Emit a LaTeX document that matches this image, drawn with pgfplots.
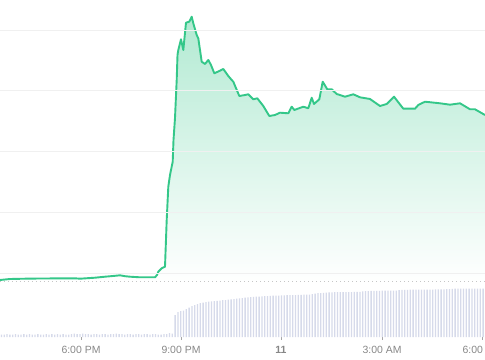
\documentclass[border=0pt]{standalone}
\usepackage{pgfplots}
\pgfplotsset{compat=1.18}
\usepackage{pgfplotstable}
\usepackage{fontspec}
\setmainfont{Liberation Sans}
\definecolor{lineC}{RGB}{52,199,137}
\definecolor{barC}{RGB}{214,218,234}
\definecolor{gridC}{RGB}{240,240,240}
\definecolor{labC}{RGB}{135,135,135}

\pgfplotstableread{
x y
0 2
10 3
25 3.3
40 3.5
60 3.6
75 3.7
80 3.3
95 4.3
105 5.3
113 6
120 6.7
125 5.8
130 5.3
140 4.7
155 4.7
157 7
158.3 10.3
161.7 13.7
165 15.3
166.7 62
168.3 95.3
170 107
172.7 120.3
173.5 142
175 164
176.7 202
177.5 227
178.3 232
181 242.7
183.3 232
186 259.3
189.3 260.3
191.7 265.3
193.3 258.7
196.7 247
198.3 243.7
201.7 220.3
205 218
208.3 222
211 217
214.3 208.7
220 211.3
223.3 213
228.3 206
231.7 202
233.3 200.3
239.3 186
245 187
248.3 187.7
253.3 182.7
257.3 183.7
263.3 176
269.3 166
275 167
280 169.3
288.3 168.7
291.7 175.3
294.3 172
303.3 175.3
308.3 173.7
311.7 184.3
314 178
319.3 182.7
322.7 200.3
327.3 192.7
331.7 192.7
336.7 188
345 185.3
353.3 187.7
360 184.7
370 183
380 176
386.7 178
394 185.3
403.3 173.3
415 173.3
418.3 177
425 180.3
440 178.7
450 177.3
460 178.7
470 172.7
475 172.7
485 167
}\pricedata

\pgfplotstableread{
x y
1.5 2.5
4.3 2.5
7.1 3
9.9 2.5
12.7 2.5
15.5 3
18.3 2.5
21.1 2.5
23.9 3
26.7 2.5
29.5 3
32.3 2.5
35.1 2.5
37.9 3
40.7 2.5
43.5 2.5
46.3 3
49.1 2.5
51.9 3
54.7 2.5
57.5 3
60.3 2.5
63.1 3
65.9 2.5
68.7 2.5
71.5 3
74.3 3.5
77.1 3
79.9 3
82.7 3.5
85.5 3
88.3 3
91.1 2.5
93.9 3
96.7 3
99.5 2.5
102.3 3
105.1 3
107.9 2.5
110.7 3
113.5 3
116.3 3.5
119.1 3
121.9 3
124.7 2.5
127.5 3
130.3 3
133.1 2.5
135.9 3
138.7 3
141.5 2.5
144.3 3
147.1 3
149.9 2.5
152.7 3
155.5 3
158.3 2.5
161.1 2.5
163.9 3
166.7 3
169.5 4
172.3 3.5
175.1 22
177.9 25
180.7 26
183.5 26.5
186.3 28
189.1 29.5
191.9 31
194.7 32
197.5 33
200.3 34
203.1 34.5
205.9 35
208.7 35.3
211.5 35.6
214.3 35.9
217.1 36.2
219.9 36.5
222.7 36.8
225.5 37
228.3 37.3
231.1 37.6
233.9 38
236.7 38.3
239.5 38.6
242.3 39
245.1 39.3
247.9 39.6
250.7 39.9
253.5 40.1
256.3 40.3
259.1 40.5
261.9 40.7
264.7 40.8
267.5 41
270.3 41.2
273.1 41.3
275.9 41.4
278.7 41.5
281.5 41.6
284.3 41.7
287.1 41.8
289.9 41.9
292.7 42
295.5 42
298.3 42.1
301.1 42.2
303.9 42.3
306.7 42.4
309.5 42.5
312.3 43
315.1 43.5
317.9 43.8
320.7 44
323.5 44.2
326.3 44.4
329.1 44.6
331.9 44.7
334.7 44.8
337.5 44.8
340.3 44.9
343.1 44.9
345.9 45
348.7 45
351.5 45
354.3 45.1
357.1 45.1
359.9 45.2
362.7 45.6
365.5 46
368.3 46
371.1 46.1
373.9 46.1
376.7 46.2
379.5 46.2
382.3 46.3
385.1 46.3
387.9 46.3
390.7 46.4
393.5 46.4
396.3 46.5
399.1 46.8
401.9 47.1
404.7 47.2
407.5 47.2
410.3 47.3
413.1 47.3
415.9 47.3
418.7 47.4
421.5 47.4
424.3 47.4
427.1 47.5
429.9 47.5
432.7 47.5
435.5 47.6
438.3 47.6
441.1 47.6
443.9 47.7
446.7 47.8
449.5 48
452.3 48.2
455.1 48.3
457.9 48.3
460.7 48.3
463.5 48.3
466.3 48.4
469.1 48.4
471.9 48.4
474.7 48.4
477.5 48.4
480.3 48.5
483.1 48.5
}\voldata

\begin{document}
\begin{tikzpicture}
\useasboundingbox (0,0) rectangle (485bp,360bp);
\begin{axis}[at={(0bp,78bp)}, anchor=south west, scale only axis,
  width=485bp, height=282bp, xmin=0, xmax=485, ymin=0, ymax=282,
  axis line style={draw=none}, xtick=\empty,
  ytick={9,69.75,130.5,191.25,252}, yticklabels={},
  ymajorgrids, grid style={gridC, line width=0.8bp},
  major tick length=0pt, axis on top]
\addplot[draw=none, top color=lineC!38!white, bottom color=white] table[x=x,y=y]{\pricedata} \closedcycle;
\addplot[lineC, line width=1.9bp, line join=round, mark=none] table[x=x,y=y]{\pricedata};
\end{axis}
\begin{axis}[at={(0bp,23bp)}, anchor=south west, scale only axis,
  width=485bp, height=55.5bp, xmin=0, xmax=485, ymin=0, ymax=55.5,
  axis x line*=bottom, axis y line=none, axis line style={draw=none},
  ytick=\empty, xtick={81,181,281,382,482},
  xticklabels={6:00 PM, 9:00 PM, \textbf{11}, 3:00 AM, 6:00 AM},
  tick align=outside, major tick length=3bp,
  xtick style={draw=gray!70, line width=0.6bp},
  xticklabel style={font=\fontsize{10.5}{12}\selectfont, text=labC, yshift=-3bp},
  clip=false, ybar, bar width=1.3bp]
\addplot[draw=none, fill=barC] table[x=x,y=y]{\voldata};
\draw[gray!45, line width=0.9bp, dash pattern=on 1bp off 3bp] (rel axis cs:0,1) -- (rel axis cs:1,1);
\node[anchor=north, yshift=-6bp, font=\fontsize{10.5}{12}\selectfont, text=labC] at (axis cs:-19.25,0) {3:00 PM};
\end{axis}
\end{tikzpicture}
\end{document}
